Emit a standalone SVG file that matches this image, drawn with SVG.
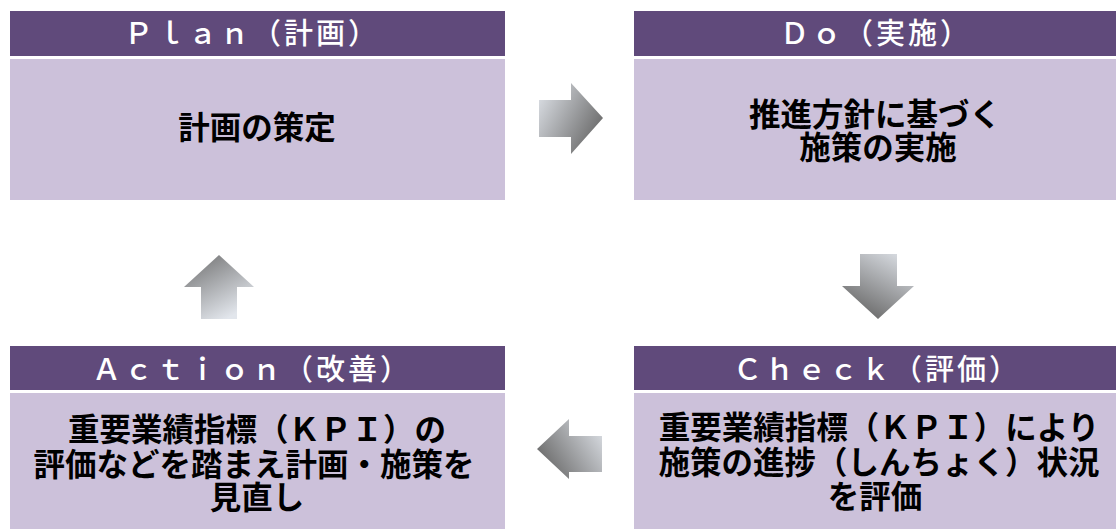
<svg xmlns="http://www.w3.org/2000/svg" width="1116" height="529" viewBox="0 0 1116 529">
<style>
.hd{fill:#604a7b}
.bd{fill:#ccc1da}
.ht{fill:#ffffff;font-family:"Noto Sans CJK JP","Noto Sans",sans-serif;font-size:29px;font-weight:500;text-anchor:middle;letter-spacing:3px}
.bt{fill:#000000;font-family:"Noto Sans CJK JP","Noto Sans",sans-serif;font-size:31.5px;font-weight:700;text-anchor:middle}
</style>
<defs>
<linearGradient id="gR" x1="0" y1="0" x2="1" y2="0.6"><stop offset="0" stop-color="#e2e6ec"/><stop offset="1" stop-color="#6c6c6c"/></linearGradient>
<linearGradient id="gD" x1="1" y1="0" x2="0.4" y2="1"><stop offset="0" stop-color="#e2e6ec"/><stop offset="1" stop-color="#6c6c6c"/></linearGradient>
<linearGradient id="gU" x1="0.6" y1="1" x2="0" y2="0"><stop offset="0" stop-color="#e2e6ec"/><stop offset="1" stop-color="#6c6c6c"/></linearGradient>
<linearGradient id="gL" x1="1" y1="0" x2="0" y2="0.6"><stop offset="0" stop-color="#e2e6ec"/><stop offset="1" stop-color="#6c6c6c"/></linearGradient>
</defs>
<rect width="1116" height="529" fill="#ffffff"/>
<g id="plan">
<rect class="hd" x="10" y="11" width="495" height="45"/>
<rect class="bd" x="10" y="59" width="495" height="141"/>
<text class="ht" x="252" y="44">Ｐｌａｎ（計画）</text>
<text class="bt" x="257" y="139">計画の策定</text>
</g>
<g id="do">
<rect class="hd" x="634" y="11" width="482" height="45"/>
<rect class="bd" x="634" y="59" width="482" height="141"/>
<text class="ht" x="876" y="44">Ｄｏ（実施）</text>
<text class="bt"><tspan x="875" y="126">推進方針に基づく</tspan><tspan x="878" y="159">施策の実施</tspan></text>
</g>
<g id="check">
<rect class="hd" x="634" y="346" width="482" height="44"/>
<rect class="bd" x="634" y="393" width="482" height="136"/>
<text class="ht" x="877" y="380">Ｃｈｅｃｋ（評価）</text>
<text class="bt"><tspan x="879" y="439">重要業績指標（ＫＰＩ）により</tspan><tspan x="879" y="474">施策の進捗（しんちょく）状況</tspan><tspan x="875" y="508">を評価</tspan></text>
</g>
<g id="action">
<rect class="hd" x="10" y="346" width="495" height="44"/>
<rect class="bd" x="10" y="393" width="495" height="136"/>
<text class="ht" x="252" y="380">Ａｃｔｉｏｎ（改善）</text>
<text class="bt"><tspan x="257" y="441">重要業績指標（ＫＰＩ）の</tspan><tspan x="254" y="476">評価などを踏まえ計画・施策を</tspan><tspan x="257" y="509">見直し</tspan></text>
</g>
<g id="connectors">
<polygon fill="url(#gR)" points="539,100 571,100 571,83 603,118 571,154 571,137 539,137"/>
<polygon fill="url(#gD)" points="860,254 897,254 897,286 914,286 878,319 842,286 860,286"/>
<polygon fill="url(#gU)" points="219,255 254,287 237,287 237,319 201,319 201,287 184,287"/>
<polygon fill="url(#gL)" points="537,449 569,419 569,436 602,436 602,472 569,472 569,479"/>
</g>
</svg>
